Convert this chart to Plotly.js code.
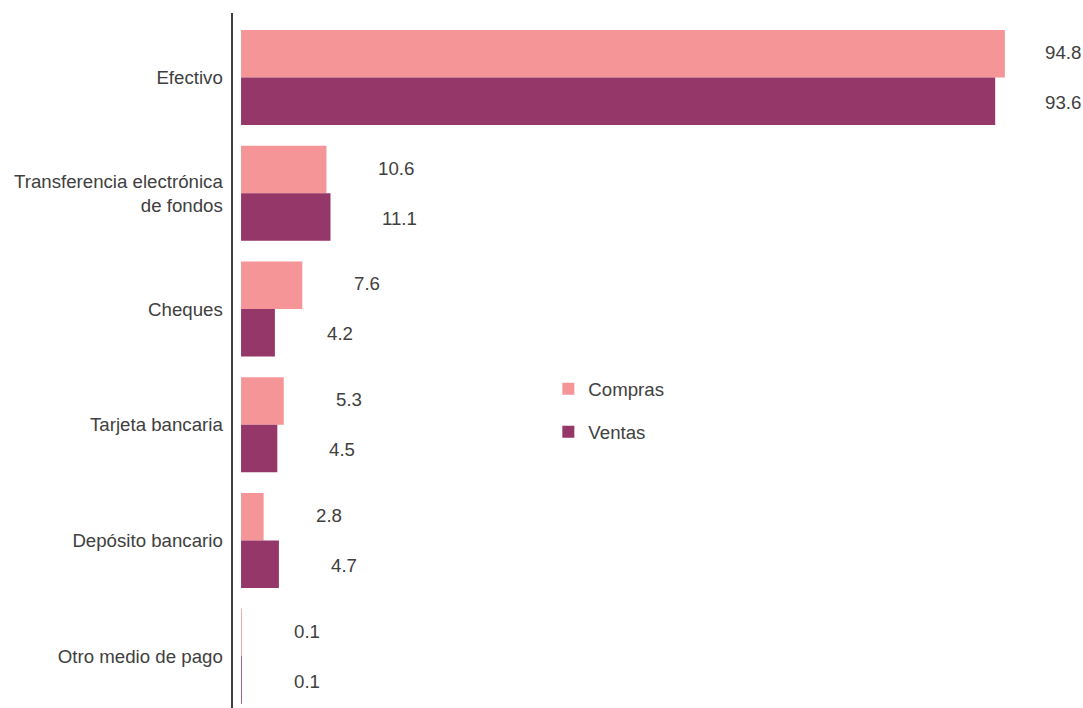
<!DOCTYPE html>
<html>
<head>
<meta charset="utf-8">
<script src="https://cdn.plot.ly/plotly-3.0.1.min.js"></script>
<style>html,body{margin:0;padding:0;background:#fff;}#chart{width:1083px;height:708px;}</style>
</head>
<body>
<div id="chart"></div>
<script>
const categories = ["Efectivo", "Transferencia electrónica<br>de fondos", "Cheques", "Tarjeta bancaria", "Depósito bancario", "Otro medio de pago"];
const compras = [94.8, 10.6, 7.6, 5.3, 2.8, 0.1];
const ventas = [93.6, 11.1, 4.2, 4.5, 4.7, 0.1];
const seriesNames = ["Compras", "Ventas"];

const colCompras = "#F59597";
const colVentas = "#963769";
const textCol = "#404040";
const fontFam = "Liberation Sans, Arial, sans-serif";
const fs = 18.67;
const labelCap = 93.3; // keep value labels inside the page

const traces = [
  {type: "bar", orientation: "h", name: seriesNames[0], y: categories, x: compras,
   marker: {color: colCompras}, legend: "legend", hoverinfo: "x+y"},
  {type: "bar", orientation: "h", name: seriesNames[1], y: categories, x: ventas,
   marker: {color: colVentas}, legend: "legend2", hoverinfo: "x+y"}
];

const annotations = [];
categories.forEach((c, i) => {
  annotations.push({x: Math.min(compras[i], labelCap), y: c, xref: "x", yref: "y", text: compras[i].toFixed(1),
    showarrow: false, xanchor: "left", yanchor: "middle", xshift: 50, yshift: 25,
    font: {family: fontFam, size: fs, color: textCol}});
  annotations.push({x: Math.min(ventas[i], labelCap), y: c, xref: "x", yref: "y", text: ventas[i].toFixed(1),
    showarrow: false, xanchor: "left", yanchor: "middle", xshift: 50, yshift: -25,
    font: {family: fontFam, size: fs, color: textCol}});
});

const legendCommon = {font: {family: fontFam, size: fs, color: textCol}, bgcolor: "rgba(0,0,0,0)",
  xanchor: "left", yanchor: "middle", borderwidth: 0};

const layout = {
  width: 1083, height: 708,
  margin: {l: 233, r: 0, t: 13, b: 0, pad: 0},
  paper_bgcolor: "#fff", plot_bgcolor: "#fff",
  barmode: "group", bargap: 0.179, bargroupgap: 0,
  font: {family: fontFam, size: fs, color: textCol},
  xaxis: {range: [-1, 104.5], showgrid: false, zeroline: false, showticklabels: false, showline: false, ticks: ""},
  yaxis: {type: "category", range: [5.447, -0.557], showgrid: false, zeroline: false,
    showline: true, linecolor: "#404040", linewidth: 2.5, ticks: "", ticklabelstandoff: 4,
    tickfont: {family: fontFam, size: fs, color: textCol}},
  showlegend: true,
  legend: Object.assign({x: 0.371, y: 0.459}, legendCommon),
  legend2: Object.assign({x: 0.371, y: 0.397}, legendCommon),
  annotations: annotations
};

Plotly.newPlot("chart", traces, layout, {displayModeBar: false, staticPlot: true});
</script>
</body>
</html>
